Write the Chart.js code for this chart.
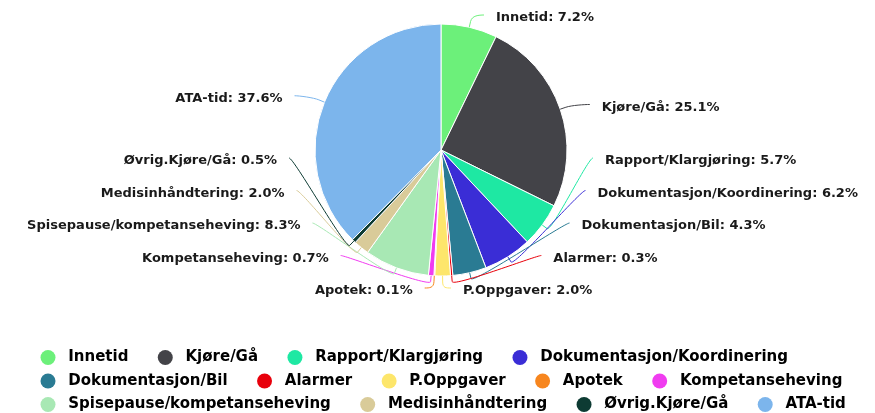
<!DOCTYPE html>
<html>
<head>
<meta charset="utf-8">
<script src="https://cdn.jsdelivr.net/npm/chart.js@4.4.1/dist/chart.umd.min.js"></script>
<style>
  html, body { margin: 0; padding: 0; background: #fff; }
  #wrap { width: 875px; height: 413px; }
</style>
</head>
<body>
<div id="wrap"><canvas id="pie" width="875" height="413"></canvas></div>
<script>
const labels = [
  "Innetid", "Kjøre/Gå", "Rapport/Klargjøring", "Dokumentasjon/Koordinering",
  "Dokumentasjon/Bil", "Alarmer", "P.Oppgaver", "Apotek", "Kompetanseheving",
  "Spisepause/kompetanseheving", "Medisinhåndtering", "Øvrig.Kjøre/Gå", "ATA-tid"
];
const percent = [7.2, 25.1, 5.7, 6.2, 4.3, 0.3, 2.0, 0.1, 0.7, 8.3, 2.0, 0.5, 37.6];
const colors = [
  "#6cf07a", "#434348", "#1ee8a3", "#3a2dd6", "#2a7b93", "#e8000b", "#fde66b",
  "#f7861e", "#f03cf0", "#a8e8b4", "#d9cb99", "#0d3b33", "#7cb5ec"
];

const LABEL_FONT = "bold 13px 'DejaVu Sans'";

// highcharts-like data labels with connectors
const pieLabels = {
  id: "pieLabels",
  afterDatasetsDraw(chart) {
    const ctx = chart.ctx;
    const arcs = chart.getDatasetMeta(0).data;
    if (!arcs.length) return;
    const cx = arcs[0].x, cy = arcs[0].y, r = arcs[0].outerRadius;
    const top = 18, bottom = 291, gap = 32.5;
    const items = arcs.map((a, i) => {
      const mid = (a.startAngle + a.endAngle) / 2;
      return {
        i, mid,
        right: Math.cos(mid) >= 0,
        y: cy + 8 + (r + 30) * Math.sin(mid)
      };
    });
    [true, false].forEach((side) => {
      const list = items.filter((it) => it.right === side).sort((a, b) => a.y - b.y);
      list.forEach((it) => { it.y = Math.min(bottom, Math.max(top, it.y)); });
      for (let k = list.length - 2; k >= 0; k--) list[k].y = Math.min(list[k].y, list[k + 1].y - gap);
      for (let k = 1; k < list.length; k++) list[k].y = Math.max(list[k].y, list[k - 1].y + gap);
    });
    ctx.save();
    ctx.font = LABEL_FONT;
    ctx.textBaseline = "middle";
    items.forEach((it) => {
      const dir = it.right ? 1 : -1;
      let off;
      if (it.y <= top + 1 || it.y >= bottom - 1) {
        off = (r + 30) * Math.abs(Math.cos(it.mid)) + 8;
      } else {
        const dy = it.y - (cy - 7);
        const q = r + 27;
        off = Math.sqrt(Math.max(0, q * q - dy * dy));
      }
      const lx = cx + dir * off;
      const ly = it.y - 3;
      const tx = cx + Math.cos(it.mid) * r, ty = cy + Math.sin(it.mid) * r;
      const bx = cx + Math.cos(it.mid) * (r + 6), by = cy + Math.sin(it.mid) * (r + 6);
      ctx.strokeStyle = colors[it.i];
      ctx.lineWidth = 1;
      ctx.beginPath();
      ctx.moveTo(lx, ly);
      ctx.bezierCurveTo(lx - dir * 5, ly, 2 * bx - tx, 2 * by - ty, bx, by);
      ctx.lineTo(tx, ty);
      ctx.stroke();
      ctx.fillStyle = "#1a1a1a";
      ctx.textAlign = it.right ? "left" : "right";
      ctx.fillText(labels[it.i] + ": " + percent[it.i].toFixed(1) + "%", lx + dir * 12, it.y);
    });
    ctx.restore();
  }
};

// move legend block to where it sits in the picture
const legendPlace = {
  id: "legendPlace",
  afterLayout(chart) {
    const lg = chart.legend;
    lg.left = 32;
    lg.top = 341.5;
    lg.right = chart.width + 40;
    lg.bottom = chart.height;
  }
};

new Chart(document.getElementById("pie"), {
  type: "pie",
  data: {
    labels: labels,
    datasets: [{
      data: percent,
      backgroundColor: colors,
      borderColor: "#fff",
      borderWidth: 1,
      radius: 126,
      clip: false
    }]
  },
  options: {
    responsive: false,
    animation: false,
    layout: { padding: { top: 10, bottom: 42.5, left: 7, right: 0 } },
    plugins: {
      tooltip: { enabled: false },
      legend: {
        position: "bottom",
        align: "start",
        labels: {
          usePointStyle: true,
          boxWidth: 15,
          boxHeight: 10.6,
          padding: 8.5,
          color: "#333",
          font: { family: "'DejaVu Sans'", size: 15, weight: "bold" },
          generateLabels: () => labels.map((l, i) => ({
            text: " " + l + "    ",
            fillStyle: colors[i],
            strokeStyle: colors[i],
            lineWidth: 0,
            pointStyle: "circle",
            hidden: false,
            index: i
          }))
        }
      }
    }
  },
  plugins: [pieLabels, legendPlace]
});
</script>
</body>
</html>
